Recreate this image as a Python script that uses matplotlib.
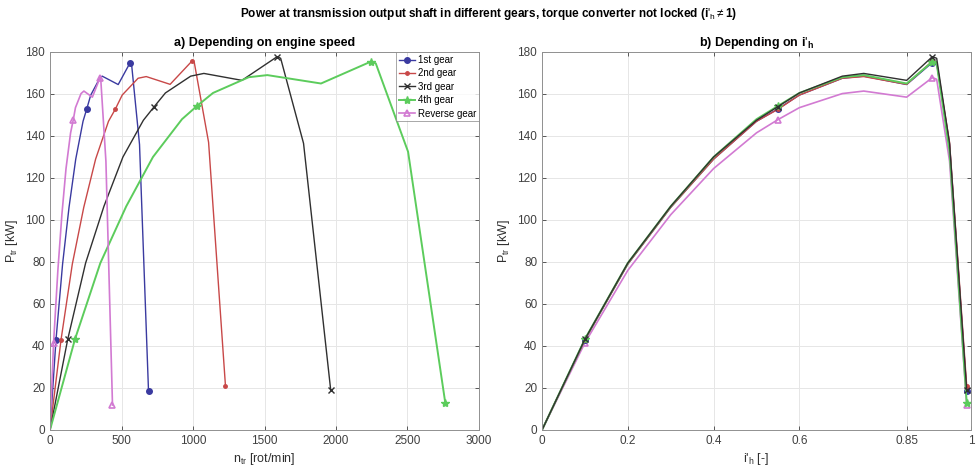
import matplotlib
matplotlib.use("Agg")
import matplotlib.pyplot as plt
from matplotlib import font_manager

fams = {f.name for f in font_manager.fontManager.ttflist}
base = "Liberation Sans Narrow" if "Liberation Sans Narrow" in fams else "Liberation Sans"
plt.rcParams['font.family'] = [base, 'DejaVu Sans']
plt.rcParams['mathtext.fontset'] = 'custom'
plt.rcParams['mathtext.rm'] = base
plt.rcParams['mathtext.it'] = base
plt.rcParams['mathtext.bf'] = base + ':bold'

# ---- data ----
ih = [0, 0.1, 0.2, 0.3, 0.4, 0.5, 0.55, 0.6, 0.7, 0.75, 0.85, 0.91, 0.92, 0.95, 0.99]

n_1st = [0, 42, 88, 133, 180, 231, 257, 285, 348, 365, 477, 561, 570, 626, 689]
n_2nd = [0, 77, 156, 236, 319, 409, 456, 505, 616, 673, 840, 993, 1009, 1109, 1227]
n_3rd = [0, 124, 249, 377, 510, 653, 729, 807, 984, 1076, 1342, 1589, 1613, 1773, 1963]
n_4th = [0, 175, 352, 533, 720, 923, 1028, 1140, 1390, 1520, 1895, 2243, 2278, 2504, 2764]
n_rev = [0, 25, 55, 83, 112, 144, 163, 178, 217, 237, 296, 350, 355, 391, 437]

P_1st = [0, 43.0, 79.0, 106.0, 129.0, 147.0, 152.9, 159.5, 167.5, 168.5, 164.5, 175.0, 174.5, 136.0, 18.4]
P_2nd = [0, 42.9, 79.0, 106.0, 129.0, 147.0, 152.7, 159.5, 167.5, 168.3, 164.6, 175.7, 175.0, 137.0, 21.0]
P_3rd = [0, 43.2, 79.5, 106.5, 130.0, 147.5, 154.0, 160.5, 168.5, 169.8, 166.5, 177.8, 177.0, 136.5, 19.0]
P_4th = [0, 43.3, 79.5, 106.5, 130.0, 148.0, 154.3, 160.5, 168.0, 169.0, 165.0, 175.4, 174.6, 132.5, 13.0]
P_rev = [0, 41.5, 76.0, 102.5, 124.5, 141.5, 147.8, 153.5, 160.2, 161.4, 158.5, 167.8, 167.0, 128.0, 11.9]

labels = ["1st gear", "2nd gear", "3rd gear", "4th gear", "Reverse gear"]
marker_idx = [1, 6, 11, 14]

x_ticks_a = [0, 500, 1000, 1500, 2000, 2500, 3000]
x_ticks_b = [0, 0.2, 0.4, 0.6, 0.85, 1]
x_ticklabels_b = ["0", "0.2", "0.4", "0.6", "0.85", "1"]
y_ticks = [0, 20, 40, 60, 80, 100, 120, 140, 160, 180]

styles = [
    dict(color="#3a3aa0", marker="o", ms=4, mfc="#3a3aa0", lw=1.0),
    dict(color="#c84848", marker=".", ms=5, lw=1.0),
    dict(color="#303030", marker="x", ms=4, mew=1.0, lw=1.0),
    dict(color="#5ccc5c", marker="*", ms=6, lw=1.4),
    dict(color="#d27ad2", marker="^", ms=5, mfc="none", mew=1.2, lw=1.2),
]

ns = [n_1st, n_2nd, n_3rd, n_4th, n_rev]
Ps = [P_1st, P_2nd, P_3rd, P_4th, P_rev]

fig = plt.figure(figsize=(9.77, 4.71), dpi=100)
W, H = 977, 471
axA = fig.add_axes([50 / W, 1 - 430 / H, 429 / W, 378 / H])
axB = fig.add_axes([542 / W, 1 - 430 / H, 429 / W, 378 / H])

for n, P, lab, st in zip(ns, Ps, labels, styles):
    axA.plot(n, P, label=lab, markevery=marker_idx, **st)

order = [4, 0, 1, 3, 2]
for k in order:
    axB.plot(ih, Ps[k], markevery=marker_idx, **styles[k])

for ax in (axA, axB):
    ax.set_ylim(0, 180)
    ax.set_yticks(y_ticks)
    ax.grid(True, color="#e6e6e6", lw=0.7)
    ax.set_axisbelow(True)
    ax.tick_params(direction="in", top=True, right=True, labelsize=8.5,
                   colors="#404040", length=3, width=0.6)
    for sp in ax.spines.values():
        sp.set_color("#909090")
        sp.set_linewidth(0.7)
    ax.set_ylabel(r"P$_{\mathrm{tr}}$ [kW]", fontsize=9, color="#303030", labelpad=4)

axA.set_xlim(0, 3000)
axA.set_xticks(x_ticks_a)
axA.set_xlabel(r"n$_{\mathrm{tr}}$ [rot/min]", fontsize=9, color="#303030", labelpad=3)
axA.set_title("a) Depending on engine speed", fontsize=9, fontweight="bold", pad=4)

axB.set_xlim(0, 1)
axB.set_xticks(x_ticks_b)
axB.set_xticklabels(x_ticklabels_b)
axB.set_xlabel(r"i$'_{\mathrm{h}}$ [-]", fontsize=9, color="#303030", labelpad=3)
axB.set_title(r"b) Depending on i$'_{\mathbf{h}}$", fontsize=9, fontweight="bold", pad=4)

leg = axA.legend(loc="upper right", fontsize=7, frameon=True, fancybox=False,
                 borderpad=0.3, labelspacing=0.35, handlelength=1.6,
                 handletextpad=0.3, borderaxespad=0.0)
leg.get_frame().set_edgecolor("#808080")
leg.get_frame().set_linewidth(0.6)

fig.suptitle(r"Power at transmission output shaft in different gears, torque converter not locked (i$'_{\mathrm{h}}$$\neq$1)",
             fontsize=8.5, fontweight="bold", y=1 - 14 / H, va="center")

fig.savefig("out.png", dpi=100, facecolor="white")
